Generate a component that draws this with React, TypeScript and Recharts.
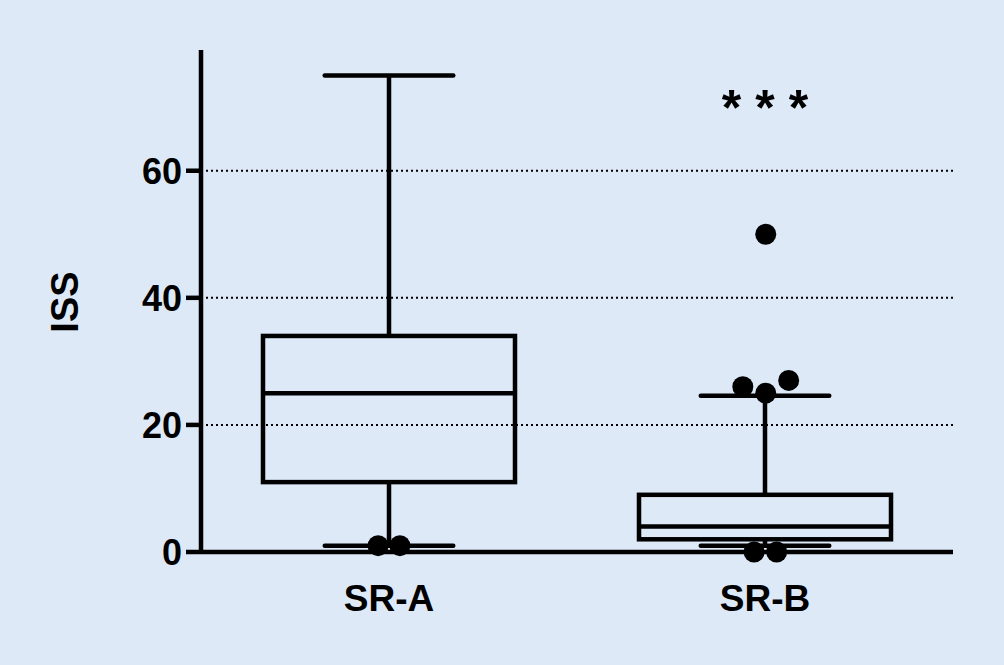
import {
  Bar,
  ComposedChart,
  ReferenceDot,
  ReferenceLine,
  Scatter,
  XAxis,
  YAxis,
} from "recharts";

// box plot summary, one entry per group
const groups = ["SR-A", "SR-B"];
const whiskerLow = [1, 1];
const q1 = [11, 2];
const median = [25, 4];
const q3 = [34, 9];
const whiskerHigh = [75, 24.6];

// outlier dots: position on the hidden 0..2 axis (group centre = 0.5 / 1.5) and ISS value
const outlierPos = [0.471, 0.529, 1.502, 1.441, 1.502, 1.563, 1.471, 1.531];
const outlierIss = [1, 1, 50, 26, 25, 27, 0, 0];

const yTicks = [0, 20, 40, 60];
const gridValues = [20, 40, 60];
const significance = { pos: 1.5, iss: 70, text: "***" };

const BG = "#dde9f6";
const FONT = "'Liberation Sans', Arial, Helvetica, sans-serif";
const LW = 4.5;

const boxData = groups.map((g, i) => ({
  group: g,
  low: whiskerLow[i],
  q1: q1[i],
  median: median[i],
  q3: q3[i],
  high: whiskerHigh[i],
}));

const outliers = outlierPos.map((p, i) => ({ pos: p, iss: outlierIss[i] }));

function BoxShape(props: any) {
  const { x, y, width, height, payload } = props;
  const { low, high } = payload;
  // bar spans whiskerLow..whiskerHigh, map the other stats along it
  const toY = (v: number) => y + (height * (high - v)) / (high - low);
  const cx = x + width / 2;
  const capHalf = width * 0.255;
  const line = { stroke: "#000", strokeWidth: LW, fill: "none" };
  return (
    <g>
      <line x1={cx} x2={cx} y1={toY(high)} y2={toY(payload.q3)} {...line} />
      <line x1={cx} x2={cx} y1={toY(payload.q1)} y2={toY(low)} {...line} />
      <line x1={cx - capHalf} x2={cx + capHalf} y1={toY(high)} y2={toY(high)} strokeLinecap="round" {...line} />
      <line x1={cx - capHalf} x2={cx + capHalf} y1={toY(low)} y2={toY(low)} strokeLinecap="round" {...line} />
      <rect
        x={x}
        y={toY(payload.q3)}
        width={width}
        height={toY(payload.q1) - toY(payload.q3)}
        {...line}
      />
      <line x1={x} x2={x + width} y1={toY(payload.median)} y2={toY(payload.median)} {...line} />
    </g>
  );
}

export default function App() {
  return (
    <div style={{ position: "absolute", left: 0, top: 0, width: 1004, height: 665, background: BG }}>
      <ComposedChart
        width={1004}
        height={665}
        data={boxData}
        margin={{ top: 50, right: 51, bottom: 33, left: 121 }}
      >
        {gridValues.map((v) => (
          <ReferenceLine
            key={v}
            xAxisId="cat"
            y={v}
            stroke="#000"
            strokeWidth={2}
            strokeDasharray="2 3"
          />
        ))}
        <XAxis
          xAxisId="cat"
          dataKey="group"
          type="category"
          height={80}
          axisLine={{ stroke: "#000", strokeWidth: LW }}
          tickLine={false}
          tickSize={0}
          tickMargin={33}
          tick={{ fontSize: 37, fontWeight: 700, fill: "#000", fontFamily: FONT }}
        />
        <XAxis xAxisId="num" dataKey="pos" type="number" domain={[0, 2]} hide />
        <YAxis
          type="number"
          domain={[0, 79]}
          ticks={yTicks}
          width={80}
          axisLine={{ stroke: "#000", strokeWidth: LW }}
          tickLine={{ stroke: "#000", strokeWidth: LW }}
          tickSize={15}
          tickMargin={4}
          tick={{ fontSize: 36, fontWeight: 700, fill: "#000", fontFamily: FONT }}
          label={{
            content: ({ viewBox }: any) => {
              const lx = viewBox.x + viewBox.width - 136;
              const ly = viewBox.y + 252;
              return (
                <text
                  x={lx}
                  y={ly}
                  transform={`rotate(-90, ${lx}, ${ly})`}
                  textAnchor="middle"
                  dominantBaseline="central"
                  fontSize={38}
                  fontWeight={700}
                  fontFamily={FONT}
                  fill="#000"
                >
                  ISS
                </text>
              );
            },
          }}
        />
        <Bar
          xAxisId="cat"
          dataKey={(d: any) => [d.low, d.high]}
          barSize={252}
          shape={BoxShape}
          isAnimationActive={false}
        />
        <Scatter
          xAxisId="num"
          data={outliers}
          dataKey="iss"
          fill="#000"
          shape={(p: any) => <circle cx={p.cx} cy={p.cy} r={10.5} fill="#000" />}
          isAnimationActive={false}
        />
        <ReferenceDot
          xAxisId="num"
          x={significance.pos}
          y={significance.iss}
          r={0}
          ifOverflow="visible"
          label={{
            value: significance.text,
            position: "center",
            fontSize: 50,
            fontWeight: 700,
            fontFamily: FONT,
            fill: "#000",
            letterSpacing: 14,
            dx: 7,
          }}
        />
      </ComposedChart>
    </div>
  );
}
